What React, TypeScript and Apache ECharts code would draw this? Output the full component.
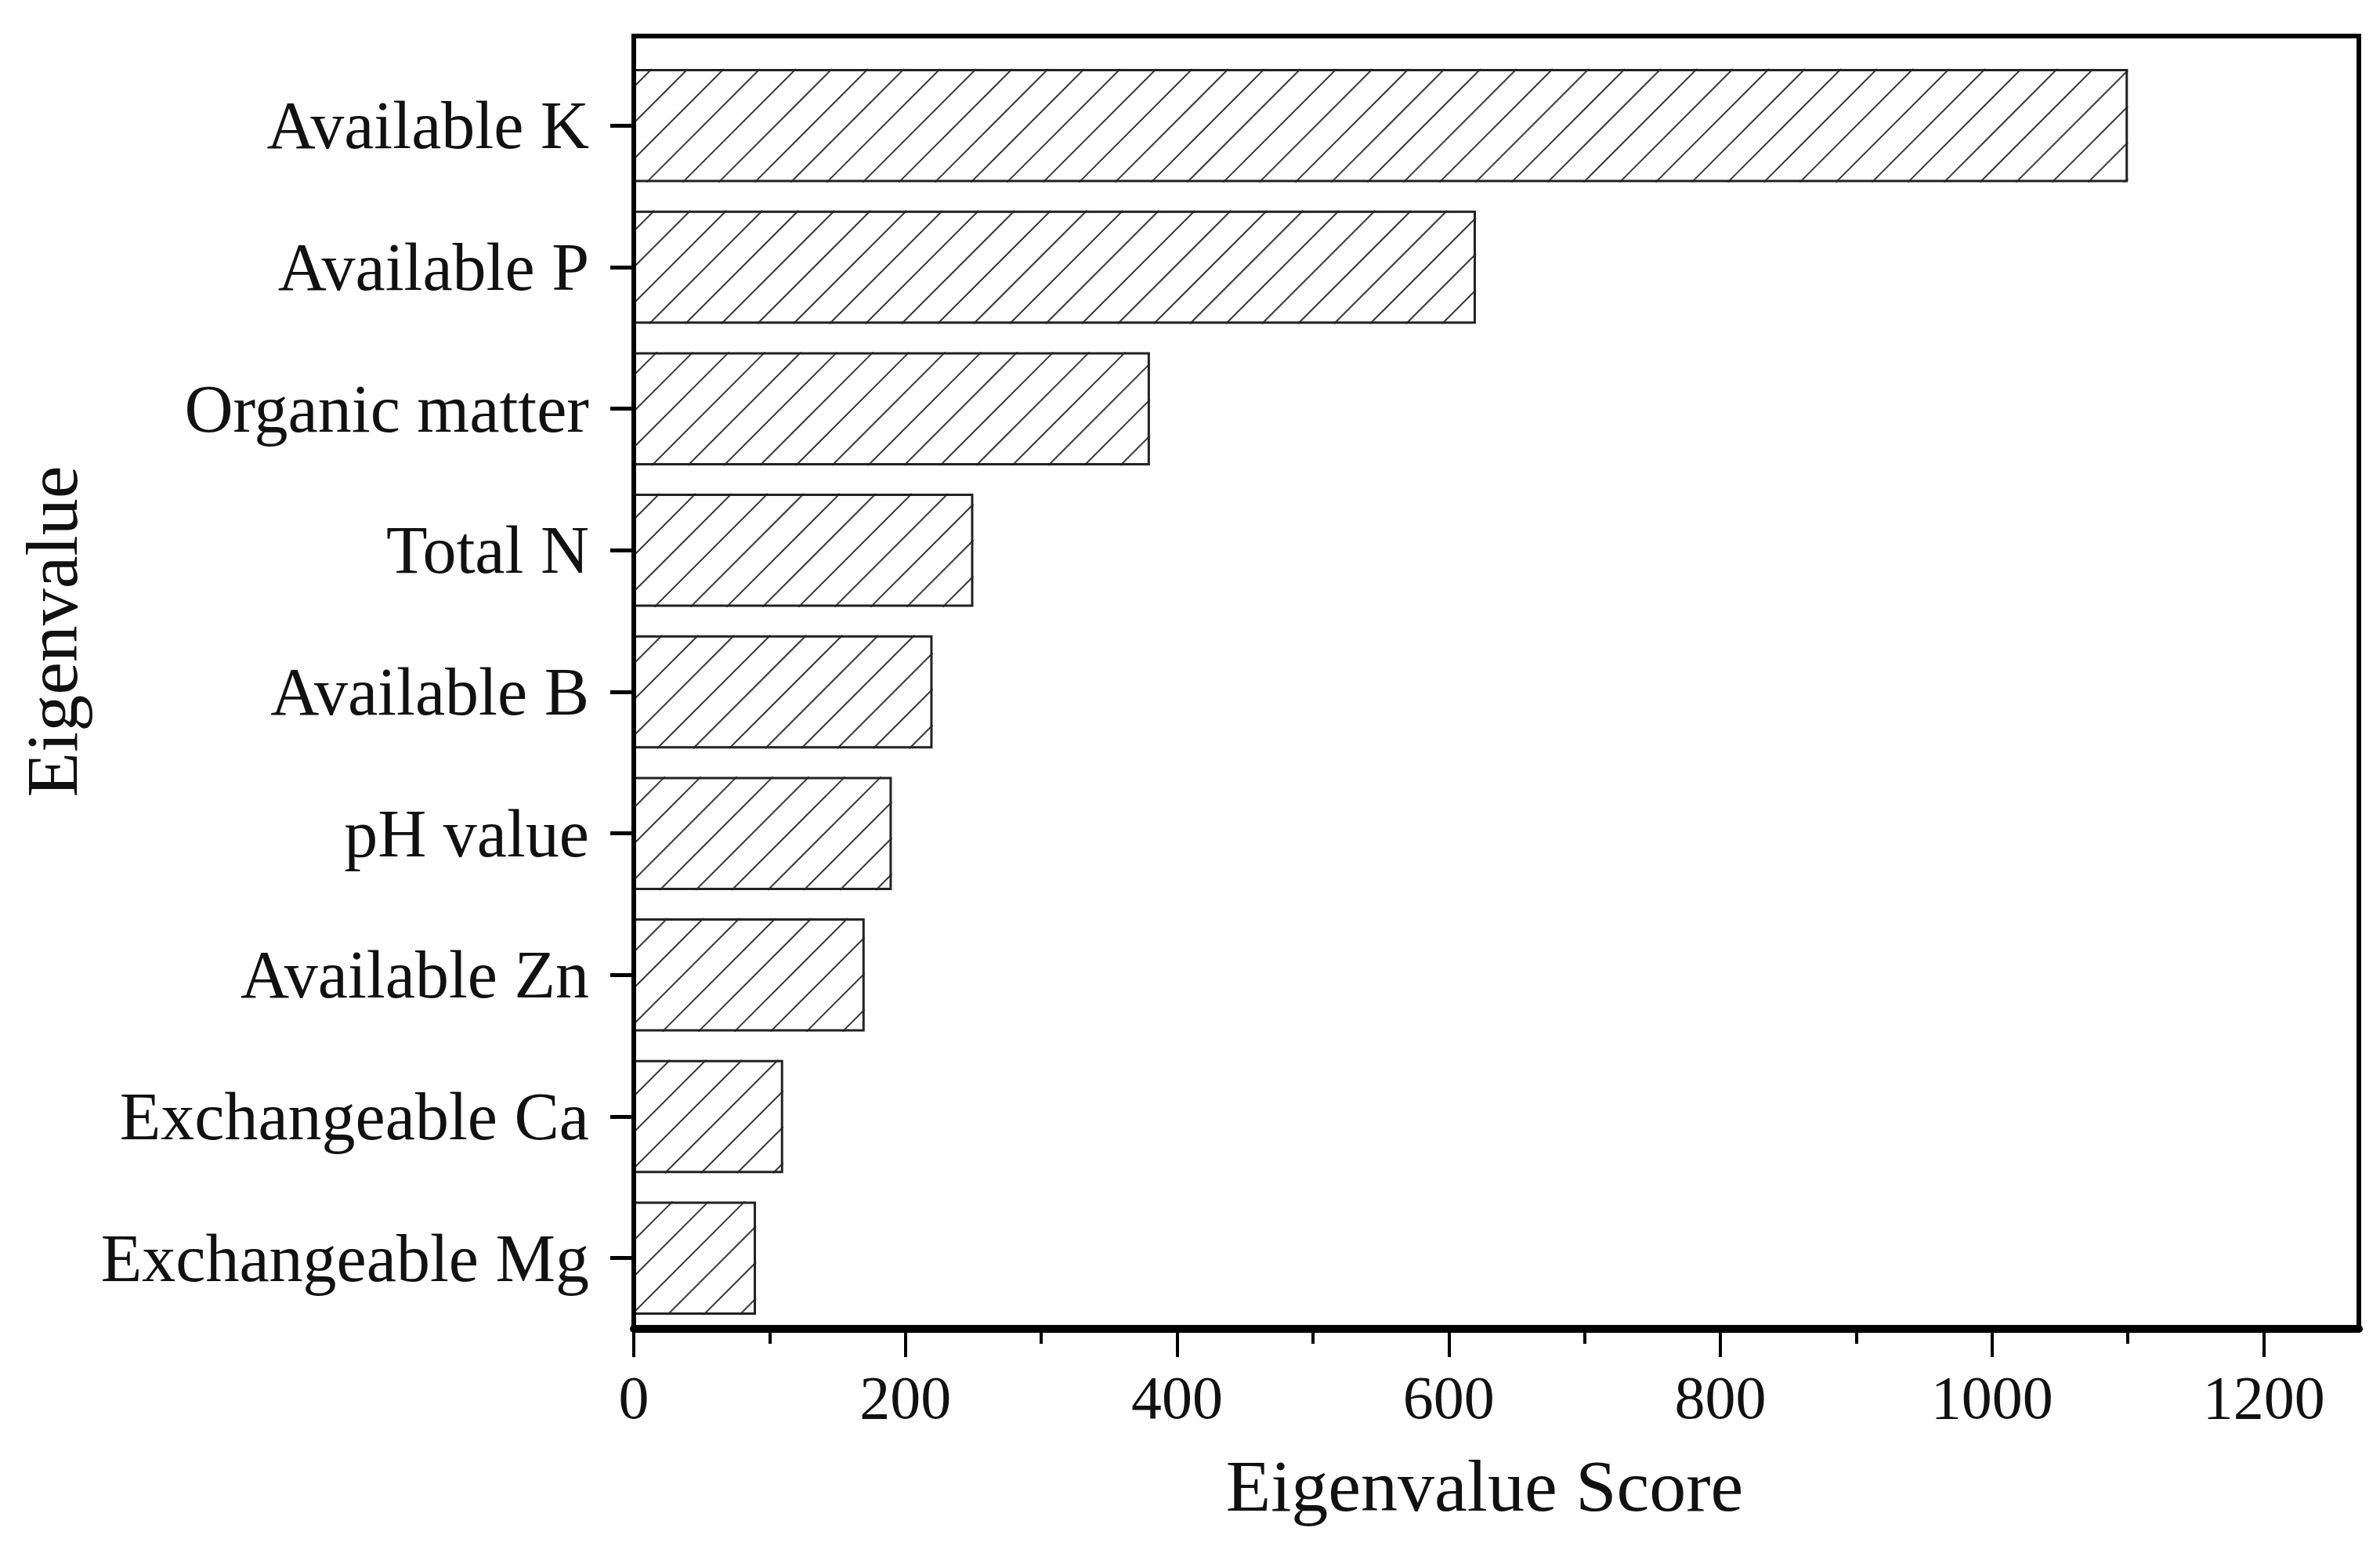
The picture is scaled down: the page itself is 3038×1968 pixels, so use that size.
import React, { useEffect, useRef } from "react";
import * as echarts from "echarts";

const categories = [
  "Available K",
  "Available P",
  "Organic matter",
  "Total N",
  "Available B",
  "pH value",
  "Available Zn",
  "Exchangeable Ca",
  "Exchangeable Mg",
];
const scores = [1100, 620, 380, 250, 220, 190, 170, 110, 90];
const xMajorTicks = [0, 200, 400, 600, 800, 1000, 1200];
const xMinorTicks = [100, 300, 500, 700, 900, 1100];
const xTitle = "Eigenvalue Score";
const yTitle = "Eigenvalue";

const W = 3038;
const H = 1968;
const GRID_LEFT = 809;
const GRID_RIGHT_X = 3011;
const GRID_TOP = 70;
const FRAME_TOP = 46;
const GRID_BOTTOM_Y = 1696;
const FONT = "'Liberation Serif', 'Times New Roman', serif";
const HATCH_STEP = 46;
const BAR_FRAC = 0.8;

export default function App() {
  const ref = useRef<HTMLDivElement>(null);
  useEffect(() => {
    if (!ref.current) return;
    const chart = echarts.init(ref.current, null, { renderer: "svg" });
    const renderHatch = (params: any, api: any) => {
      const v = api.value(0);
      const idx = api.value(1);
      const start = api.coord([0, idx]);
      const end = api.coord([v, idx]);
      const band = api.size([0, 1])[1];
      const bh = band * BAR_FRAC;
      const x0 = start[0];
      const x1 = end[0];
      const y0 = end[1] - bh / 2;
      const y1 = end[1] + bh / 2;
      const children: any[] = [];
      const cStart = Math.ceil((x0 + y0) / HATCH_STEP) * HATCH_STEP;
      for (let c = cStart; c < x1 + y1; c += HATCH_STEP) {
        const xa = Math.max(x0, c - y1);
        const xb = Math.min(x1, c - y0);
        if (xb - xa > 0.5) {
          children.push({
            type: "line",
            shape: { x1: xa, y1: c - xa, x2: xb, y2: c - xb },
            style: { stroke: "#3a3a3a", lineWidth: 2 },
          });
        }
      }
      return { type: "group", children };
    };

    chart.setOption({
      animation: false,
      backgroundColor: "#ffffff",
      grid: {
        left: GRID_LEFT,
        right: W - GRID_RIGHT_X,
        top: GRID_TOP,
        bottom: H - GRID_BOTTOM_Y,
        containLabel: false,
        outerBoundsMode: "none",
      },
      xAxis: [
        {
          type: "value",
          min: 0,
          max: 1270,
          interval: 200,
          position: "bottom",
          axisLine: { show: true, lineStyle: { color: "#000", width: 10 } },
          axisTick: {
            show: true,
            length: 36,
            customValues: xMajorTicks,
            lineStyle: { color: "#000", width: 4 },
          },
          axisLabel: {
            customValues: xMajorTicks,
            formatter: (v: number) => String(v),
            fontFamily: FONT,
            fontSize: 78,
            color: "#111",
            margin: 48,
          },
          splitLine: { show: false },
          name: xTitle,
          nameLocation: "middle",
          nameGap: 153,
          nameTextStyle: {
            fontFamily: FONT,
            fontSize: 94,
            color: "#111",
            padding: [0, 30, 0, 0],
          },
        },
        {
          type: "value",
          min: 0,
          max: 1270,
          interval: 100,
          position: "bottom",
          axisLine: { show: false },
          axisTick: {
            show: true,
            length: 19,
            customValues: xMinorTicks,
            lineStyle: { color: "#000", width: 4 },
          },
          axisLabel: { show: false },
          splitLine: { show: false },
        },
      ],
      yAxis: {
        type: "category",
        data: categories,
        inverse: true,
        axisLine: { show: true, lineStyle: { color: "#000", width: 6 } },
        axisTick: {
          show: true,
          alignWithLabel: true,
          length: 30,
          lineStyle: { color: "#000", width: 5 },
        },
        axisLabel: {
          fontFamily: FONT,
          fontSize: 86,
          color: "#111",
          margin: 57,
          padding: [0, 0, 6, 0],
        },
        splitLine: { show: false },
      },
      graphic: [
        {
          type: "polyline",
          shape: {
            points: [
              [GRID_LEFT, GRID_BOTTOM_Y],
              [GRID_LEFT, FRAME_TOP],
              [GRID_RIGHT_X, FRAME_TOP],
              [GRID_RIGHT_X, GRID_BOTTOM_Y],
            ],
          },
          style: { stroke: "#000", lineWidth: 6, fill: null },
          z: 10,
        },
        {
          type: "text",
          x: 66,
          y: 806,
          rotation: Math.PI / 2,
          style: {
            text: yTitle,
            fontFamily: FONT,
            fontSize: 94,
            fill: "#111",
            align: "center",
            verticalAlign: "middle",
          },
        },
      ],
      series: [
        {
          type: "custom",
          name: "hatch",
          xAxisIndex: 0,
          data: scores.map((v, i) => [v, i]),
          encode: { x: 0, y: 1 },
          renderItem: renderHatch,
          z: 2,
          silent: true,
        },
        {
          type: "bar",
          name: "Eigenvalue Score",
          xAxisIndex: 0,
          data: scores,
          barWidth: BAR_FRAC * 100 + "%",
          itemStyle: {
            color: "rgba(255,255,255,0)",
            borderColor: "#222",
            borderWidth: 3,
          },
          z: 3,
        },
      ],
    });
    return () => chart.dispose();
  }, []);
  return (
    <div
      ref={ref}
      style={{ position: "fixed", left: 0, top: 0, width: W, height: H, background: "#fff" }}
    />
  );
}
